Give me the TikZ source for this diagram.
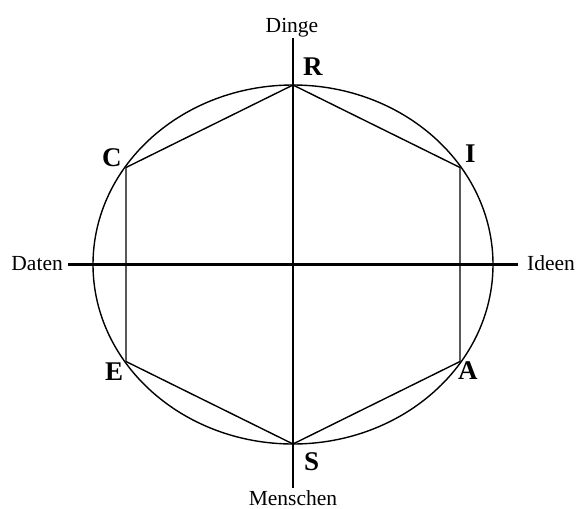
\documentclass[tikz,border=0pt]{standalone}
\usepackage{fontspec}
\setmainfont{Liberation Serif}
\begin{document}
\begin{tikzpicture}[x=1pt,y=-1pt,
  axis/.style={line width=2.2pt},
  thin/.style={line width=1.4pt},
  axlabel/.style={inner sep=0pt,font=\fontsize{21.5}{21.5}\selectfont},
  vlabel/.style={inner sep=0pt,anchor=base west,font=\fontsize{27}{27}\selectfont\bfseries}]
\useasboundingbox (0,0) rectangle (576,509);
\coordinate (O) at (293,264.5);
\coordinate (R) at (293,85);
\coordinate (I) at (460,167.5);
\coordinate (A) at (460,361.5);
\coordinate (S) at (293,444);
\coordinate (E) at (126,361.5);
\coordinate (C) at (126,167.5);
\coordinate (top) at (293,38);
\coordinate (bot) at (293,488);
\coordinate (lft) at (68,264.5);
\coordinate (rgt) at (518,264.5);
\draw[thin] (O) ellipse [x radius=200, y radius=179.5];
\draw[thin] (R) -- (I) -- (A) -- (S) -- (E) -- (C) -- cycle;
\draw[axis] (top) -- (bot);
\draw[axis] (lft) -- (rgt);
\node[axlabel,anchor=base] (dinge) at (292,32) {Dinge};
\node[axlabel,anchor=base] (menschen) at (293,505) {Menschen};
\node[axlabel,anchor=base east] (daten) at (63,270) {Daten};
\node[axlabel,anchor=base west] (ideen) at (527,270) {Ideen};
\node[vlabel] (lR) at (303,75) {R};
\node[vlabel] (lS) at (304,470) {S};
\node[vlabel] (lC) at (102,166) {C};
\node[vlabel] (lI) at (465,162) {I};
\node[vlabel] (lE) at (105,380) {E};
\node[vlabel] (lA) at (458,379) {A};
\end{tikzpicture}
\end{document}
